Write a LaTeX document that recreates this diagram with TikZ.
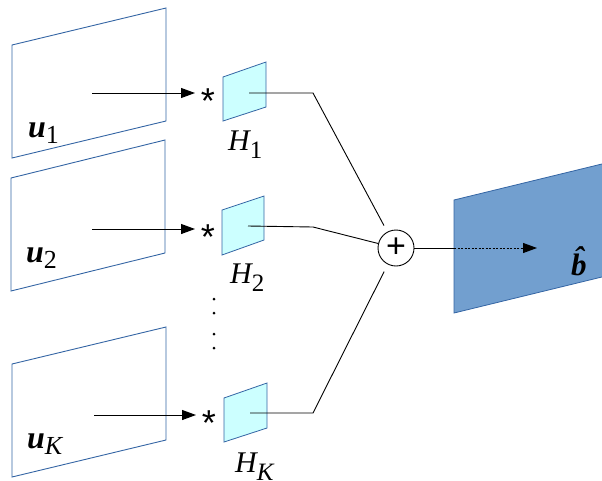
\documentclass[tikz,border=0pt]{standalone}
\usepackage{fontspec}
\setmainfont{Liberation Serif}
\newfontfamily\sansf{Liberation Sans}
\usetikzlibrary{arrows.meta}
\definecolor{frameblue}{HTML}{3465A4}
\definecolor{lightcyan}{HTML}{CCFFFF}
\definecolor{fillblue}{HTML}{729FCF}
\newcommand{\ulab}[1]{{\fontsize{32}{32}\selectfont\bfseries\itshape u}\raisebox{-6pt}{\fontsize{26}{26}\selectfont #1}}
\newcommand{\hlab}[1]{{\fontsize{30}{30}\selectfont\itshape H}\raisebox{-8pt}{\fontsize{25}{25}\selectfont #1}}
\begin{document}
\begin{tikzpicture}[x=1pt,y=-1pt,
  frame/.style={draw=frameblue, line width=0.9pt},
  filt/.style={draw=frameblue, fill=lightcyan, line width=0.8pt},
  conn/.style={line width=0.9pt},
  feed/.style={line width=1pt, -{Triangle[length=14pt,width=10pt]}},
  starnode/.style={font=\sansf\fontsize{36}{36}\selectfont, anchor=base, inner sep=0pt},
  lab/.style={anchor=base west, inner sep=0pt},
  dotmark/.style={fill=black}]
\useasboundingbox (0,0) rectangle (602,480);
% input frames
\draw[frame] (12,45) -- (166,8) -- (166,121) -- (12,158) -- cycle;
\draw[frame] (11,178) -- (165,140) -- (165,253) -- (11,291) -- cycle;
\draw[frame] (12,364) -- (166,327) -- (166,440) -- (12,477) -- cycle;
% labels u
\node[lab] (lu1) at (28,137) {\ulab{1}};
\node[lab] (lu2) at (26,262) {\ulab{2}};
\node[lab] (luk) at (27,448) {\ulab{\itshape K}};
% arrows to stars
\coordinate (s1) at (92,93);  \coordinate (e1) at (195,93);
\coordinate (s2) at (92,229); \coordinate (e2) at (195,229);
\coordinate (sk) at (94,415); \coordinate (ek) at (196,415);
\draw[feed] (s1) -- (e1);
\draw[feed] (s2) -- (e2);
\draw[feed] (sk) -- (ek);
\node[starnode] (st1) at (208,113) {*};
\node[starnode] (st2) at (208,249) {*};
\node[starnode] (stk) at (209,435) {*};
% filters
\draw[filt] (223,77) -- (266,62) -- (266,107) -- (223,121) -- cycle;
\draw[filt] (222,210) -- (264,196) -- (264,240) -- (222,255) -- cycle;
\draw[filt] (224,398) -- (267,383) -- (267,428) -- (224,442) -- cycle;
\coordinate (h1) at (249,93);
\coordinate (h2) at (248,226);
\coordinate (hk) at (250,413);
\node[lab] (lh1) at (228,150) {\hlab{1}};
\node[lab] (lh2) at (230,283) {\hlab{2}};
\node[lab] (lhk) at (235,472) {\hlab{\itshape K}};
% dots
\fill[dotmark] (214,299) circle (1.5);
\fill[dotmark] (214,313) circle (1.5);
\fill[dotmark] (214,334) circle (1.5);
\fill[dotmark] (214,348) circle (1.5);
% sum
\node[circle, draw, line width=0.9pt, minimum size=36pt, inner sep=0pt,
      font=\sansf\fontsize{34}{34}\selectfont] (sum) at (396,248) {+};
\draw[conn, shorten >=7pt] (h1) -- (313,93) -- (sum);
\draw[conn] (h2) -- (313,227) -- (sum);
\draw[conn, shorten >=8pt] (hk) -- (313,413) -- (sum);
% output plane
\draw[draw=frameblue, fill=fillblue, line width=0.8pt] (454,200) -- (606,163) -- (606,276) -- (454,313) -- cycle;
\coordinate (fin) at (454,248);
\coordinate (tip) at (537,248);
\draw[conn] (sum) -- (fin);
\draw[line width=0.9pt, dash pattern=on 2pt off 1.5pt, -{Triangle[length=14pt,width=10pt]}] (fin) -- (tip);
\node[lab] (lb) at (571,275) {\fontsize{31}{31}\selectfont\bfseries\itshape \^{b}};
\end{tikzpicture}
\end{document}
